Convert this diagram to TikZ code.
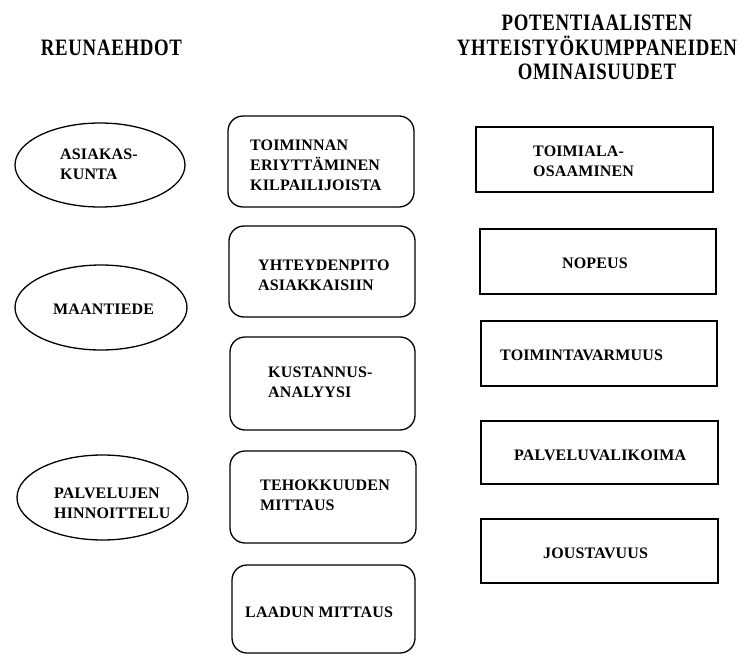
\documentclass[tikz,border=0pt]{standalone}
\usepackage{fontspec}
\usetikzlibrary{shapes.geometric}
\newfontfamily\bodyfont[LetterSpace=1]{Liberation Serif}
\newfontfamily\hdfont[LetterSpace=3,FakeStretch=0.8]{Liberation Serif}
\tikzset{
  ell/.style={draw, ellipse, line width=1.3pt, inner sep=0pt},
  rbox/.style={draw, rounded corners=15pt, line width=1.3pt, inner sep=0pt},
  sbox/.style={draw, line width=1.3pt, inner sep=0pt},
  txt/.style={font=\bodyfont\bfseries\fontsize{16}{20}\selectfont, align=left, inner sep=0pt, anchor=west},
  hd/.style={font=\hdfont\bfseries\fontsize{23.5}{24.5}\selectfont, align=center, inner sep=0pt}
}
\begin{document}
\begin{tikzpicture}[x=1pt,y=-1pt]
\useasboundingbox (0,0) rectangle (741,655);
% headers
\node[hd] (h1) at (111.5,48) {REUNAEHDOT};
\node[hd] (h2) at (597,47.5) {POTENTIAALISTEN\\YHTEISTYÖKUMPPANEIDEN\\OMINAISUUDET};
% ellipses
\node[ell, minimum width=170pt, minimum height=84pt] (e1) at (100,165) {};
\node[ell, minimum width=172pt, minimum height=85pt] (e2) at (101,307.5) {};
\node[ell, minimum width=171pt, minimum height=85pt] (e3) at (102.5,497.5) {};
\node[txt] (te1) at (60,164) {ASIAKAS-\\KUNTA};
\node[txt] (te2) at (53,309) {MAANTIEDE};
\node[txt] (te3) at (54,503.5) {PALVELUJEN\\HINNOITTELU};
% rounded boxes
\node[rbox, minimum width=186pt, minimum height=91pt] (b1) at (321,161.5) {};
\node[rbox, minimum width=186pt, minimum height=91pt] (b2) at (322,271.5) {};
\node[rbox, minimum width=185pt, minimum height=93pt] (b3) at (322.5,383.5) {};
\node[rbox, minimum width=186pt, minimum height=92pt] (b4) at (323,497) {};
\node[rbox, minimum width=183pt, minimum height=88pt] (b5) at (323.5,609) {};
\node[txt] (tb1) at (250,165) {TOIMINNAN\\ERIYTTÄMINEN\\KILPAILIJOISTA};
\node[txt] (tb2) at (258,275) {YHTEYDENPITO\\ASIAKKAISIIN};
\node[txt] (tb3) at (268,382) {KUSTANNUS-\\ANALYYSI};
\node[txt] (tb4) at (260,495) {TEHOKKUUDEN\\MITTAUS};
\node[txt] (tb5) at (245,612) {LAADUN MITTAUS};
% rectangles
\node[sbox, minimum width=237pt, minimum height=65pt] (r1) at (594.5,159.5) {};
\node[sbox, minimum width=236pt, minimum height=65pt] (r2) at (598,261.5) {};
\node[sbox, minimum width=236pt, minimum height=65pt] (r3) at (599,353.5) {};
\node[sbox, minimum width=237pt, minimum height=63pt] (r4) at (599.5,452.5) {};
\node[sbox, minimum width=237pt, minimum height=64pt] (r5) at (599.5,551) {};
\node[txt] (tr1) at (533,161.5) {TOIMIALA-\\OSAAMINEN};
\node[txt, anchor=center] (tr2) at (595,263) {NOPEUS};
\node[txt] (tr3) at (500,355) {TOIMINTAVARMUUS};
\node[txt] (tr4) at (514,455) {PALVELUVALIKOIMA};
\node[txt] (tr5) at (543,553) {JOUSTAVUUS};
\end{tikzpicture}
\end{document}
